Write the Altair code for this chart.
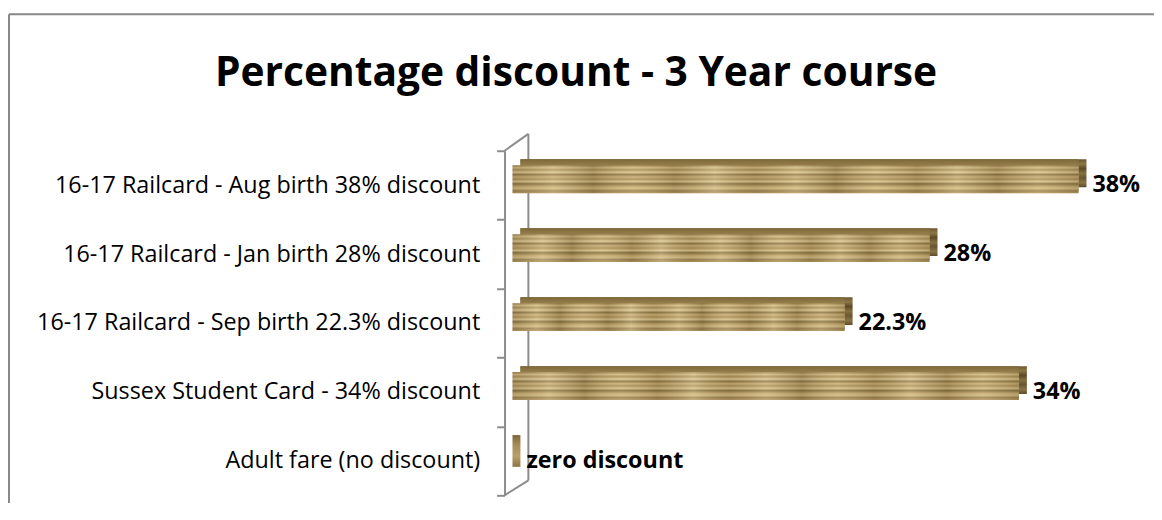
import altair as alt
import pandas as pd

categories = [
    "16-17 Railcard - Aug birth 38% discount",
    "16-17 Railcard - Jan birth 28% discount",
    "16-17 Railcard - Sep birth 22.3% discount",
    "Sussex Student Card - 34% discount",
    "Adult fare (no discount)",
]
values = [0.38, 0.28, 0.223, 0.34, 0.0]
value_labels = ["38%", "28%", "22.3%", "34%", "zero discount"]
title_text = "Percentage discount - 3 Year course"

df = pd.DataFrame({
    "category": categories,
    "value": values,
    "start": [0.0] * len(values),
    "label": value_labels,
})
one = pd.DataFrame({"k": [0]})

W, H = 600, 347
FONT = "Open Sans"
WALL = "#8c8c8c"
BAR = 28
PAD_LEFT = 500


def stops(cols):
    n = len(cols) - 1
    return [alt.GradientStop(color=c, offset=i / n) for i, c in enumerate(cols)]


wood = alt.Gradient(
    gradient="linear", x1=0, y1=0, x2=0, y2=1,
    stops=stops(["#9c8150", "#d0b981", "#a98e58", "#dfca96", "#8f7645",
                 "#c9b079", "#a98d57", "#d9c48e", "#86703f", "#bfa46c",
                 "#d3bc85", "#9c8150", "#b69a63"]),
)
knots = alt.Gradient(
    gradient="linear", x1=0, y1=0, x2=1, y2=0,
    stops=stops(["rgba(80,60,25,0.18)", "rgba(255,245,210,0.22)",
                 "rgba(80,60,25,0.25)", "rgba(255,245,210,0.12)",
                 "rgba(80,60,25,0.20)", "rgba(255,245,210,0.25)",
                 "rgba(80,60,25,0.14)", "rgba(255,245,210,0.20)",
                 "rgba(80,60,25,0.25)", "rgba(255,245,210,0.14)",
                 "rgba(80,60,25,0.18)", "rgba(255,245,210,0.22)",
                 "rgba(80,60,25,0.22)", "rgba(255,245,210,0.16)",
                 "rgba(80,60,25,0.20)"]),
)
top_face = alt.Gradient(
    gradient="linear", x1=0, y1=0, x2=0, y2=1,
    stops=stops(["#7d6838", "#a88f5a", "#b9a06a", "#8c7446"]),
)
side_face = alt.Gradient(
    gradient="linear", x1=0, y1=0, x2=0, y2=1,
    stops=stops(["#6b5630", "#8d7747", "#5d4a28", "#84703f", "#6a5631",
                 "#8a7444", "#5f4c2a"]),
)

y_enc = alt.Y(
    "category:N", sort=categories,
    scale=alt.Scale(paddingInner=0, paddingOuter=0),
    axis=alt.Axis(
        title=None, labelFont=FONT, labelFontSize=23.5, labelColor="#000000",
        labelLimit=600, labelPadding=17, tickSize=8, tickColor=WALL,
        tickWidth=2, domainColor=WALL, domainWidth=2, tickBand="extent",
        grid=False,
    ),
)
x_start = alt.X("start:Q", scale=alt.Scale(domain=[0, 0.4], nice=False, zero=True),
                axis=None, stack=None)

base = alt.Chart(df)

side = base.mark_bar(size=BAR, xOffset=16, x2Offset=16, yOffset=-12,
                     color=side_face).encode(x=x_start, x2="value:Q", y=y_enc)
top = base.mark_bar(size=BAR + 4, xOffset=16, x2Offset=8, yOffset=-10,
                    color=top_face).encode(x=x_start, x2="value:Q", y=y_enc)
front = base.mark_bar(size=BAR, xOffset=8, x2Offset=8, yOffset=-6,
                      color=wood).encode(x=x_start, x2="value:Q", y=y_enc)
grain = base.mark_bar(size=BAR, xOffset=8, x2Offset=8, yOffset=-6,
                      color=knots).encode(x=x_start, x2="value:Q", y=y_enc)
text = base.mark_text(
    align="left", baseline="middle", font=FONT, fontSize=23.5,
    fontWeight="bold", color="#000000", xOffset=22,
).encode(x=alt.X("value:Q"), y=y_enc, text="label:N")

deco = alt.Chart(one)
wall_back = deco.mark_rule(color=WALL, strokeWidth=2).encode(
    x=alt.value(24), y=alt.value(-17), y2=alt.value(H - 15))
wall_top = deco.mark_rule(color=WALL, strokeWidth=2).encode(
    x=alt.value(0), y=alt.value(0), x2=alt.value(24), y2=alt.value(-17))
wall_bottom = deco.mark_rule(color=WALL, strokeWidth=2).encode(
    x=alt.value(0), y=alt.value(H), x2=alt.value(24), y2=alt.value(H - 15))
border_left = deco.mark_rule(color="#888888", strokeWidth=2).encode(
    x=alt.value(1 - PAD_LEFT), y=alt.value(-137.5), y2=alt.value(H + 20))
border_top = deco.mark_rule(color="#888888", strokeWidth=2).encode(
    x=alt.value(1 - PAD_LEFT), x2=alt.value(700), y=alt.value(-137.5))
title = deco.mark_text(
    text=title_text, font=FONT, fontSize=41, fontWeight="bold",
    color="#000000", align="center", baseline="middle",
).encode(x=alt.value(580 - 8 - PAD_LEFT), y=alt.value(-77))

chart = alt.layer(
    border_left, border_top, title,
    wall_back, wall_top, wall_bottom,
    side, top, front, grain, text,
).properties(
    width=W, height=H,
    padding={"left": PAD_LEFT, "top": 142, "right": 54, "bottom": 6},
    autosize=alt.AutoSizeParams(type="none"),
    background="white",
).configure_view(stroke=None)

chart.save("out.html", embed_options={"renderer": "svg", "actions": False})
